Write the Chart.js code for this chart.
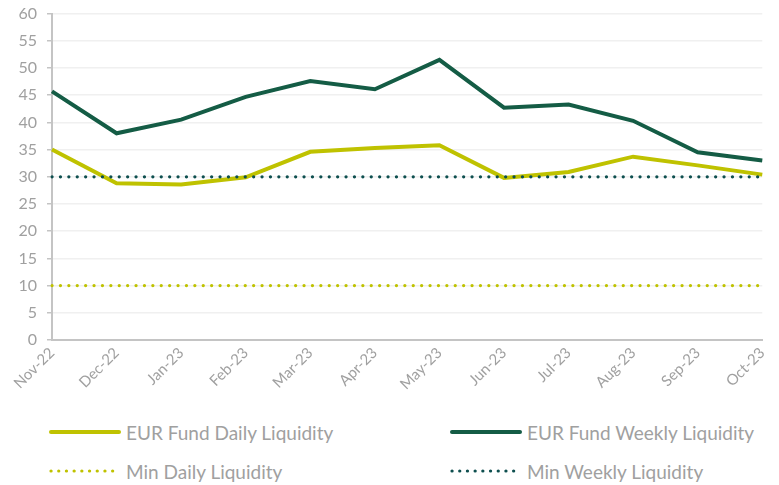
<!DOCTYPE html>
<html>
<head>
<meta charset="utf-8">
<script src="https://cdn.jsdelivr.net/npm/chart.js@4"></script>
<style>
    body { margin: 0; background: #fff; overflow: hidden; }
    #wrap { position: relative; width: 779px; height: 485px; overflow: hidden; }
    #chart-box { position: absolute; left: 0; top: -6px; width: 779px; height: 416px; }
    #legend { position: absolute; left: 0; top: 410px; width: 779px; height: 75px; font-family: Lato, sans-serif; font-size: 19px; color: #a0a0a0; }
    .item { position: absolute; display: flex; align-items: center; white-space: nowrap; height: 24px; }
    .item canvas { margin-right: 4px; }
</style>
</head>
<body>
<div id="wrap">
    <div id="chart-box"><canvas id="liq-chart"></canvas></div>
    <div id="legend"></div>
</div>
<script>
const months = ['Nov-22', 'Dec-22', 'Jan-23', 'Feb-23', 'Mar-23', 'Apr-23', 'May-23', 'Jun-23', 'Jul-23', 'Aug-23', 'Sep-23', 'Oct-23'];
const dailyLiquidity = [35.0, 28.8, 28.6, 29.9, 34.6, 35.3, 35.8, 29.8, 30.9, 33.7, 32.1, 30.4];
const weeklyLiquidity = [45.7, 38.0, 40.5, 44.7, 47.6, 46.1, 51.5, 42.7, 43.3, 40.3, 34.5, 33.0];
const minDaily = [10, 10, 10, 10, 10, 10, 10, 10, 10, 10, 10, 10];
const minWeekly = [30, 30, 30, 30, 30, 30, 30, 30, 30, 30, 30, 30];

const YELLOW = '#bfc200';
const GREEN = '#145c45';
const TEAL = '#0e4f4f';
const GREY = '#a0a0a0';

const dotDash = [0.1, 8.3];

const datasets = [
    { label: 'EUR Fund Daily Liquidity', data: dailyLiquidity, borderColor: YELLOW, borderWidth: 4, order: 2 },
    { label: 'EUR Fund Weekly Liquidity', data: weeklyLiquidity, borderColor: GREEN, borderWidth: 4, order: 1 },
    { label: 'Min Daily Liquidity', data: minDaily, borderColor: YELLOW, borderWidth: 3.2, borderDash: dotDash, borderCapStyle: 'round', order: 3 },
    { label: 'Min Weekly Liquidity', data: minWeekly, borderColor: TEAL, borderWidth: 3.2, borderDash: dotDash, borderCapStyle: 'round', order: 0 }
];
datasets.forEach(d => { d.pointRadius = 0; d.fill = false; d.tension = 0; });

const ctx = document.getElementById('liq-chart').getContext('2d');
const chart = new Chart(ctx, {
    type: 'line',
    data: { labels: months, datasets: datasets },
    options: {
        responsive: true,
        maintainAspectRatio: false,
        animation: false,
        layout: { padding: { top: 0, right: 14, left: 0, bottom: 0 } },
        plugins: {
            legend: { display: false },
            tooltip: { enabled: false }
        },
        scales: {
            x: {
                offset: false,
                grid: { display: false, drawTicks: false },
                border: { color: '#c4c4c4', width: 2 },
                ticks: {
                    color: GREY,
                    font: { family: 'Lato, sans-serif', size: 15 },
                    minRotation: 45,
                    maxRotation: 45,
                    padding: 4,
                    autoSkip: false
                },
                afterFit: (scale) => { scale.height = 70; }
            },
            y: {
                min: 0,
                max: 60,
                grid: { color: '#f0f0f0', lineWidth: 1.5, tickLength: 5, tickColor: '#c4c4c4' },
                border: { color: '#c4c4c4', width: 2 },
                ticks: {
                    stepSize: 5,
                    color: GREY,
                    font: { family: 'Lato, sans-serif', size: 16 },
                    padding: 10
                },
                afterFit: (scale) => { scale.width = 52; }
            }
        }
    }
});

// two-column legend under the chart, built from the datasets
const legendPos = [
    { left: 48, top: 10 },
    { left: 449, top: 10 },
    { left: 48, top: 49 },
    { left: 449, top: 49 }
];
const legend = document.getElementById('legend');
chart.data.datasets.forEach((ds, i) => {
    const item = document.createElement('div');
    item.className = 'item';
    item.style.left = legendPos[i].left + 'px';
    item.style.top = legendPos[i].top + 'px';
    const sw = document.createElement('canvas');
    sw.width = 74;
    sw.height = 10;
    const c = sw.getContext('2d');
    c.strokeStyle = ds.borderColor;
    c.lineWidth = ds.borderDash ? 3.2 : 4;
    c.lineCap = 'round';
    if (ds.borderDash) c.setLineDash([0.1, 7.6]);
    c.beginPath();
    c.moveTo(3, 5);
    c.lineTo(71, 5);
    c.stroke();
    item.appendChild(sw);
    const txt = document.createElement('span');
    txt.textContent = ds.label;
    item.appendChild(txt);
    legend.appendChild(item);
});
</script>
</body>
</html>
